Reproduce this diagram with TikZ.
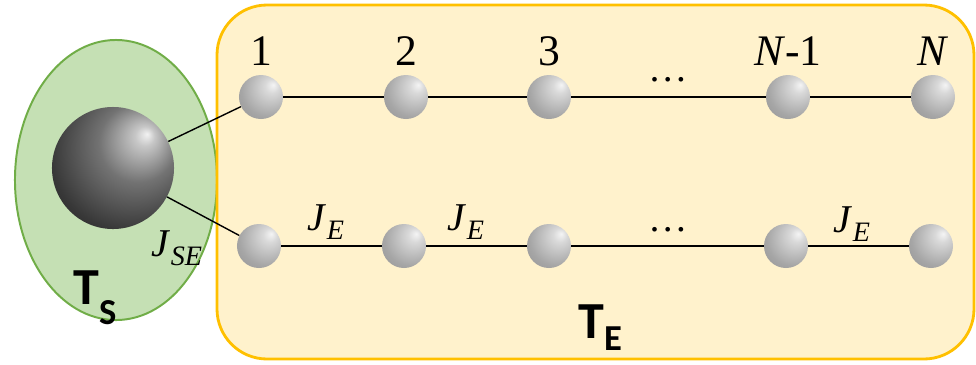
\documentclass[tikz,border=0pt]{standalone}
\usepackage{fontspec}
\setmainfont{Liberation Serif}
\newfontfamily\calfont{Carlito}
\usepackage{tikz}

\definecolor{sysfill}{HTML}{C5E0B4}
\definecolor{sysline}{HTML}{70AD47}
\definecolor{envfill}{HTML}{FFF2CC}
\definecolor{envline}{HTML}{FFC000}

\pgfdeclareradialshading{bigball}{\pgfpoint{14bp}{14bp}}{%
  color(0bp)=(black!5); color(4bp)=(black!22); color(16bp)=(black!55);
  color(32bp)=(black!78); color(50bp)=(black!95); color(60bp)=(black)}
\pgfdeclareradialshading{siteball}{\pgfpoint{14bp}{14bp}}{%
  color(0bp)=(black!4); color(8bp)=(black!15); color(30bp)=(black!35);
  color(55bp)=(black!47); color(70bp)=(black!55)}

\newcommand{\sub}[2]{\textit{#1}\raisebox{-0.22em}{\fontsize{20}{20}\selectfont\textit{#2}}}

\begin{document}
\begin{tikzpicture}[x=0.025cm, y=-0.025cm,
    site/.style={circle, inner sep=0pt, minimum size=1.1cm, shading=siteball},
    bond/.style={line width=1pt},
    num/.style={anchor=base, inner sep=0pt, font=\fontsize{31}{36}\selectfont},
    coup/.style={inner sep=0pt, font=\fontsize{28}{32}\selectfont},
    bath/.style={anchor=base west, inner sep=0pt, font=\calfont\bfseries\fontsize{37}{40}\selectfont}]
  \useasboundingbox (0,0) rectangle (976,364);

  % system and environment
  \draw[sysline, fill=sysfill, line width=1.4pt] (116,180) ellipse [x radius=2.525cm, y radius=3.5cm];
  \draw[envline, fill=envfill, line width=2pt, rounded corners=1.25cm] (217,5) rectangle (974,359);

  \node[circle, inner sep=0pt, minimum size=3.05cm, shading=bigball] (s) at (113,168) {};

  \node[site] (t1) at (261,97) {};
  \node[site] (t2) at (406,97) {};
  \node[site] (t3) at (549,97) {};
  \node[site] (t4) at (788,97) {};
  \node[site] (t5) at (933,97) {};

  \node[site] (b1) at (259,246) {};
  \node[site] (b2) at (404,246) {};
  \node[site] (b3) at (549,246) {};
  \node[site] (b4) at (786,246) {};
  \node[site] (b5) at (931,246) {};

  \draw[bond] (s) -- (t1);
  \draw[bond] (s) -- (b1);
  \draw[bond] (t1) -- (t2);
  \draw[bond] (t2) -- (t3);
  \draw[bond] (t3) -- (t4);
  \draw[bond] (t4) -- (t5);
  \draw[bond] (b1) -- (b2);
  \draw[bond] (b2) -- (b3);
  \draw[bond] (b3) -- (b4);
  \draw[bond] (b4) -- (b5);

  % labels
  \node[num] (l1) at (261,65) {1};
  \node[num] (l2) at (406,65) {2};
  \node[num] (l3) at (549,65) {3};
  \node[num] (l4) at (788,65) {\textit{N}-1};
  \node[num] (l5) at (933,65) {\textit{N}};

  \node[coup] (dt) at (668,80) {\dots};
  \node[coup] (db) at (668,230) {\dots};

  \node[coup] (j1) at (326,222) {\sub{J}{E}};
  \node[coup] (j2) at (466,222) {\sub{J}{E}};
  \node[coup] (j3) at (852,224) {\sub{J}{E}};
  \node[coup] (jse) at (177,248) {\sub{J}{SE}};

  \node[bath] (ts) at (73,304) {T\raisebox{-0.5cm}{\fontsize{26}{28}\selectfont S}};
  \node[bath] (te) at (578,338) {T\raisebox{-0.3cm}{\fontsize{26}{28}\selectfont E}};
\end{tikzpicture}
\end{document}
